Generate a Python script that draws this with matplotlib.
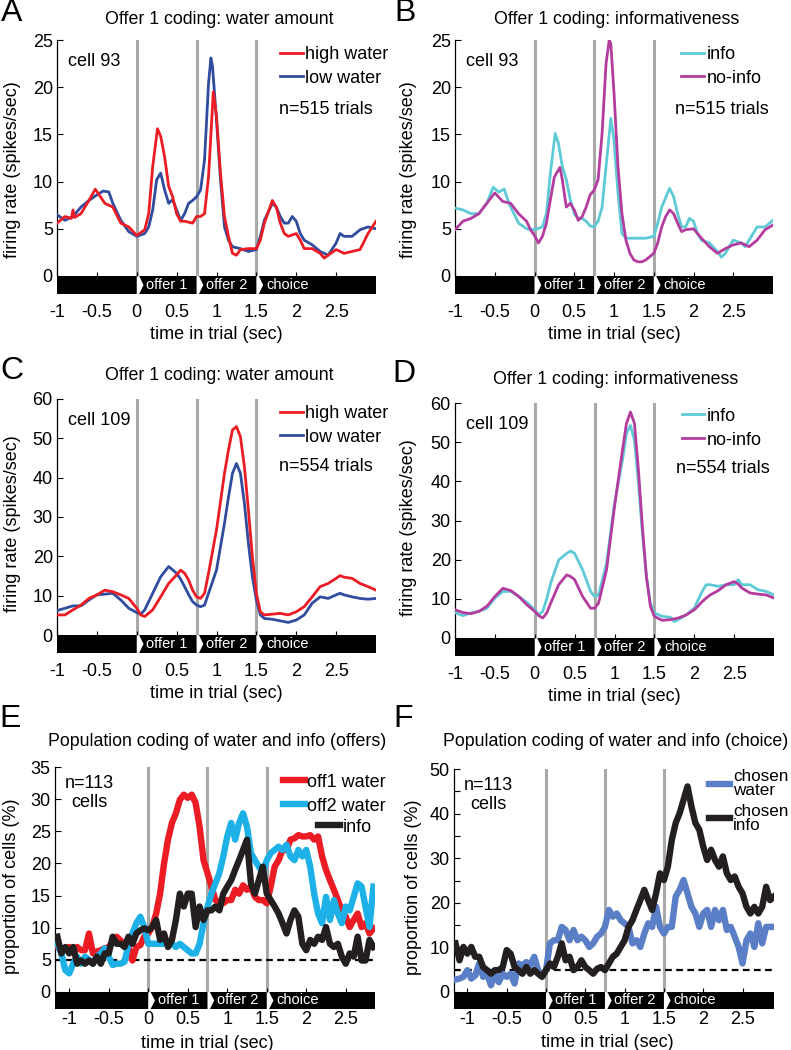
import numpy as np
import matplotlib.pyplot as plt
import matplotlib.transforms as mtransforms
from matplotlib.patches import Rectangle, Polygon

plt.rcParams['font.family'] = ['Liberation Sans', 'DejaVu Sans']

W, H = 791, 1050

# task events (sec) and the labels in the black task bar
events = [0, 0.75, 1.5]
event_labels = ['offer 1', 'offer 2', 'choice']
xticks = [-1, -0.5, 0, 0.5, 1, 1.5, 2, 2.5]
xtick_labels = ['-1', '-0.5', '0', '0.5', '1', '1.5', '2', '2.5']

# ---------------- A: cell 93, water amount
a_t_high = [-1, -0.9, -0.82, -0.8, -0.78, -0.7, -0.6, -0.52, -0.4, -0.3, -0.2, -0.1, 0, 0.1, 0.15,
            0.2, 0.26, 0.3, 0.35, 0.4, 0.45, 0.5, 0.55, 0.6, 0.7, 0.75, 0.8, 0.85, 0.9, 0.96, 1.0,
            1.05, 1.1, 1.15, 1.2, 1.25, 1.3, 1.4, 1.5, 1.55, 1.6, 1.7, 1.75, 1.8, 1.85, 1.9, 2.0,
            2.05, 2.1, 2.2, 2.3, 2.35, 2.4, 2.5, 2.6, 2.7, 2.8, 2.9, 3.0]
a_high = [5.6, 6.3, 6.1, 7.0, 6.2, 6.6, 8.0, 9.2, 7.7, 7.3, 5.6, 5.2, 4.3, 4.9, 6.6,
          11.6, 15.6, 14.8, 12.6, 9.5, 8.4, 6.6, 5.8, 5.8, 5.6, 6.3, 6.3, 6.6, 10.5, 19.5, 16.9,
          10.9, 6.3, 4.2, 2.4, 2.2, 2.8, 2.9, 2.9, 3.8, 5.6, 8.0, 7.3, 5.6, 4.5, 4.2, 4.5,
          3.8, 2.9, 2.9, 2.4, 1.9, 2.2, 2.8, 2.4, 2.6, 2.8, 4.5, 5.8]
a_t_low = [-1, -0.9, -0.8, -0.7, -0.6, -0.5, -0.42, -0.35, -0.3, -0.2, -0.1, 0, 0.1, 0.15, 0.2,
           0.25, 0.3, 0.35, 0.4, 0.45, 0.5, 0.55, 0.6, 0.65, 0.7, 0.75, 0.8, 0.85, 0.9, 0.93, 0.95,
           1.0, 1.05, 1.1, 1.15, 1.2, 1.3, 1.4, 1.5, 1.55, 1.6, 1.7, 1.75, 1.8, 1.85, 1.9, 1.95,
           2.0, 2.05, 2.1, 2.2, 2.3, 2.4, 2.5, 2.55, 2.6, 2.7, 2.8, 2.9, 3.0]
a_low = [6.5, 5.9, 6.3, 7.3, 8.0, 8.6, 9.0, 8.9, 7.7, 5.9, 4.7, 4.2, 4.5, 5.2, 7.0,
         10.2, 10.9, 9.1, 7.7, 8.1, 7.0, 5.9, 6.6, 7.7, 8.0, 8.4, 9.1, 12.3, 20.4, 23.1, 22.2,
         16.5, 10.2, 5.2, 3.8, 3.1, 2.9, 2.6, 2.8, 4.2, 5.9, 7.7, 7.3, 6.3, 5.6, 5.6, 6.3,
         5.8, 4.5, 3.8, 3.3, 2.6, 2.2, 3.5, 4.5, 4.2, 4.2, 4.9, 5.2, 5.0]

# ---------------- B: cell 93, informativeness
b_t_info = [-1, -0.9, -0.8, -0.7, -0.6, -0.52, -0.45, -0.38, -0.35, -0.3, -0.2, -0.1, 0, 0.1, 0.15,
            0.2, 0.26, 0.3, 0.35, 0.4, 0.45, 0.5, 0.55, 0.6, 0.65, 0.7, 0.75, 0.8, 0.85, 0.9, 0.96,
            1.0, 1.05, 1.1, 1.15, 1.2, 1.3, 1.4, 1.5, 1.55, 1.6, 1.7, 1.75, 1.8, 1.85, 1.9, 1.95,
            2.0, 2.05, 2.1, 2.2, 2.3, 2.35, 2.4, 2.5, 2.6, 2.65, 2.7, 2.8, 2.9, 3.0]
b_info = [7.2, 7.0, 6.6, 6.6, 7.7, 9.4, 8.9, 9.2, 8.4, 7.3, 5.6, 5.0, 4.9, 5.2, 6.6,
          10.9, 15.1, 14.1, 11.6, 10.2, 8.1, 6.6, 6.1, 6.1, 5.8, 5.3, 5.2, 5.8, 7.3, 11.6, 16.7,
          14.4, 8.8, 4.5, 4.0, 4.0, 4.0, 4.0, 4.2, 5.6, 7.3, 9.3, 8.4, 6.6, 5.2, 5.2, 6.1,
          5.8, 4.5, 3.8, 3.5, 2.6, 2.0, 2.4, 3.8, 3.5, 3.1, 3.8, 5.2, 5.2, 5.9]
b_t_noinfo = [-1, -0.9, -0.8, -0.7, -0.6, -0.5, -0.4, -0.3, -0.2, -0.1, -0.05, 0, 0.05, 0.1, 0.15,
              0.2, 0.25, 0.32, 0.35, 0.4, 0.45, 0.5, 0.55, 0.6, 0.65, 0.7, 0.75, 0.8, 0.85, 0.9,
              0.94, 0.96, 1.0, 1.05, 1.1, 1.15, 1.2, 1.25, 1.3, 1.35, 1.4, 1.5, 1.55, 1.6, 1.65,
              1.7, 1.75, 1.8, 1.85, 1.9, 2.0, 2.05, 2.1, 2.2, 2.3, 2.4, 2.5, 2.6, 2.7, 2.8, 2.9, 3.0]
b_noinfo = [4.9, 5.8, 6.1, 6.6, 7.7, 8.8, 7.9, 7.7, 6.6, 5.8, 4.9, 4.3, 3.5, 4.2, 5.6,
            8.1, 10.5, 11.5, 10.2, 7.3, 7.7, 7.0, 5.9, 6.3, 7.3, 8.6, 9.1, 10.2, 15.1, 22.5,
            25.0, 24.6, 19.4, 11.6, 6.6, 3.8, 2.4, 1.7, 1.5, 1.5, 1.7, 2.4, 3.5, 5.2, 6.3,
            7.0, 6.6, 5.6, 4.7, 4.9, 5.0, 4.5, 4.0, 3.1, 2.4, 2.9, 3.3, 3.5, 3.1, 3.8, 4.9, 5.4]

# ---------------- C: cell 109, water amount
c_t = [-1, -0.9, -0.8, -0.7, -0.6, -0.5, -0.4, -0.3, -0.2, -0.1, 0, 0.05, 0.1, 0.2, 0.3, 0.4,
       0.5, 0.55, 0.6, 0.65, 0.7, 0.75, 0.8, 0.85, 0.9, 1.0, 1.1, 1.15, 1.2, 1.25, 1.3, 1.35,
       1.4, 1.45, 1.5, 1.55, 1.6, 1.7, 1.8, 1.9, 2.0, 2.1, 2.2, 2.3, 2.4, 2.5, 2.55, 2.6, 2.7,
       2.8, 2.9, 3.0]
c_high = [5.1, 5.1, 6.4, 7.6, 9.3, 10.2, 11.4, 11.0, 10.2, 9.3, 6.8, 5.1, 4.7, 6.4, 9.7, 13.1,
          15.3, 16.5, 15.7, 14.0, 11.4, 9.7, 9.3, 10.6, 15.7, 26.7, 41.1, 47.0, 52.1, 53.0, 50.4, 42.8,
          31.8, 19.9, 10.6, 5.9, 5.1, 5.3, 5.5, 5.1, 5.9, 7.2, 9.7, 12.3, 13.1, 14.4, 15.1, 14.7, 14.4,
          13.1, 12.3, 11.4]
c_low = [6.2, 6.8, 7.4, 7.4, 8.9, 10.2, 10.4, 10.6, 8.9, 6.8, 5.7, 5.3, 6.4, 10.6, 14.8, 17.4,
         15.7, 14.2, 12.3, 10.3, 8.5, 7.6, 7.2, 7.6, 10.6, 16.5, 28.4, 35.0, 41.1, 43.6, 41.1, 33.5,
         23.3, 14.8, 8.9, 5.1, 4.2, 4.0, 3.6, 3.2, 3.8, 5.1, 8.1, 9.7, 9.3, 10.2, 10.6, 10.2, 9.7,
         9.3, 9.1, 9.3]

# ---------------- D: cell 109, informativeness
d_t = [-1, -0.9, -0.8, -0.7, -0.6, -0.5, -0.4, -0.3, -0.2, -0.1, 0, 0.05, 0.1, 0.15, 0.2, 0.3,
       0.4, 0.45, 0.5, 0.6, 0.7, 0.75, 0.8, 0.9, 1.0, 1.1, 1.15, 1.2, 1.25, 1.3, 1.35, 1.4, 1.45,
       1.5, 1.6, 1.7, 1.75, 1.8, 1.9, 2.0, 2.05, 2.1, 2.15, 2.2, 2.3, 2.4, 2.5, 2.55, 2.6, 2.7,
       2.8, 2.9, 3.0]
d_info = [6.5, 5.7, 6.4, 6.8, 7.6, 10.2, 11.9, 11.9, 10.6, 9.1, 7.2, 5.9, 6.8, 10.0, 14.0, 19.9,
          21.6, 22.2, 21.6, 17.4, 11.9, 10.6, 11.0, 19.1, 34.4, 45.4, 52.2, 54.3, 50.5, 39.5, 26.7,
          15.7, 8.9, 6.4, 5.5, 5.3, 4.2, 4.7, 5.9, 7.6, 9.8, 11.9, 13.6, 13.6, 13.2, 13.6, 13.6,
          14.9, 13.6, 13.6, 12.3, 11.9, 11.0]
d_noinfo = [7.2, 6.5, 6.2, 6.8, 8.1, 10.6, 12.7, 12.1, 10.6, 8.5, 6.8, 5.7, 5.1, 6.4, 8.9, 13.6,
            16.1, 15.7, 14.9, 10.6, 7.6, 7.6, 8.9, 17.4, 33.5, 48.0, 54.8, 57.7, 54.8, 42.9, 28.4,
            15.7, 8.1, 5.5, 4.5, 4.7, 4.9, 5.1, 5.9, 7.2, 8.2, 9.3, 10.2, 11.0, 12.1, 13.6, 14.4,
            13.8, 12.7, 11.5, 11.2, 11.0, 10.2]

# ---------------- E: population, offers (% of 113 cells), 50 ms steps from -1.15 s
e_t = np.round(np.arange(-1.15, 2.851, 0.05), 2)
e_off1 = [7.0, 6.5, 6.8, 7.0, 6.2, 7.0, 6.5, 6.5, 9.1, 6.0, 6.3, 6.5, 6.8, 7.0, 7.8, 8.6,
          8.0, 7.5, 7.0, 4.9, 7.0, 7.3, 8.6, 9.1, 10.1, 12.2, 15.3, 20.0, 23.7, 26.3, 27.8, 29.9,
          30.7, 30.2, 30.7, 29.4, 25.7, 20.5, 18.5, 16.4, 14.3, 14.0, 13.8, 14.3, 14.3, 15.9, 15.3,
          16.6, 15.9, 16.4, 14.8, 14.3, 14.3, 13.8, 16.4, 19.5, 20.5, 22.1, 22.1, 23.7, 23.9, 24.4,
          24.2, 24.2, 24.4, 23.7, 24.2, 21.1, 19.0, 17.4, 15.9, 14.3, 12.7, 11.7, 10.1, 11.2, 12.2,
          10.1, 10.7, 9.1, 9.9]
e_off2 = [7.5, 6.0, 3.4, 2.9, 4.4, 5.5, 4.4, 5.5, 5.0, 4.4, 5.5, 6.0, 6.8, 5.5, 4.2, 4.4,
          4.4, 4.7, 7.5, 9.1, 10.7, 11.7, 10.1, 7.5, 7.5, 7.5, 7.5, 7.5, 7.5, 7.5, 7.0, 7.5,
          7.0, 6.5, 6.0, 6.0, 7.5, 10.7, 13.3, 15.3, 16.9, 18.5, 21.1, 24.2, 26.3, 23.7, 26.3,
          27.8, 25.7, 21.6, 20.5, 19.5, 18.5, 20.5, 21.6, 22.1, 22.6, 22.1, 22.9, 21.1, 20.5, 22.1,
          21.1, 22.1, 19.5, 15.3, 12.2, 10.7, 14.8, 11.2, 14.3, 12.2, 10.7, 13.3, 12.7, 14.8, 16.9,
          16.4, 13.3, 10.1, 16.4]
e_info = [8.6, 6.0, 7.0, 6.0, 7.0, 4.4, 4.9, 4.4, 4.9, 4.4, 5.5, 4.4, 6.0, 6.0, 8.6, 7.5,
          7.5, 7.0, 8.6, 7.5, 9.1, 9.6, 9.9, 9.6, 10.1, 11.2, 8.1, 9.1, 7.0, 8.1, 11.2, 15.3,
          13.3, 15.3, 15.3, 10.1, 13.3, 11.2, 12.7, 12.7, 13.3, 12.7, 15.3, 16.4, 17.4, 19.0, 20.5,
          22.1, 23.7, 16.9, 15.3, 17.4, 19.5, 15.3, 14.3, 13.3, 12.2, 10.7, 9.1, 11.2, 12.7, 11.7,
          7.5, 6.5, 8.1, 7.5, 8.6, 8.1, 10.1, 7.5, 7.0, 7.5, 5.5, 4.4, 6.0, 5.5, 8.6, 4.9, 4.9,
          8.1, 7.0]

# ---------------- F: population, choice (% of 113 cells), 50 ms steps from -1.15 s
f_t = np.round(np.arange(-1.15, 2.901, 0.05), 2)
f_water = [2.8, 3.0, 3.4, 4.9, 3.0, 3.7, 6.4, 3.4, 4.1, 1.5, 4.1, 2.2, 4.1, 3.4, 4.1, 1.9,
           6.4, 6.0, 6.7, 6.0, 7.9, 4.9, 3.7, 4.9, 10.9, 11.6, 11.6, 14.6, 13.9, 11.6, 13.9, 11.6,
           12.4, 11.6, 10.1, 10.9, 12.4, 13.1, 14.6, 18.4, 16.9, 17.6, 16.1, 15.4, 14.6, 10.9, 11.6,
           10.1, 13.1, 15.4, 14.6, 19.1, 14.6, 13.1, 14.6, 14.6, 21.4, 22.9, 25.1, 22.1, 19.1, 17.6,
           14.6, 17.6, 18.4, 14.6, 18.4, 16.1, 18.4, 13.9, 14.6, 12.4, 10.1, 6.4, 11.6, 13.1, 10.1,
           15.4, 10.9, 14.6, 14.6, 14.6]
f_info = [10.9, 7.1, 10.1, 8.6, 10.1, 7.9, 7.9, 5.6, 4.9, 4.1, 4.9, 4.9, 5.6, 9.4, 8.6, 5.6,
          4.9, 4.1, 5.6, 4.1, 4.9, 4.1, 3.4, 4.9, 6.4, 5.6, 7.9, 10.9, 7.1, 7.9, 4.9, 5.6,
          7.1, 5.6, 4.9, 4.1, 5.2, 5.6, 4.9, 6.4, 7.9, 8.6, 10.1, 11.6, 14.6, 16.1, 18.4,
          20.6, 22.9, 20.6, 18.4, 22.1, 26.6, 25.1, 28.1, 34.1, 37.9, 40.1, 43.1, 46.1, 41.6, 37.9,
          36.4, 32.6, 29.6, 31.9, 29.6, 28.1, 30.4, 26.6, 25.1, 25.9, 23.6, 22.1, 19.1, 17.6, 19.1,
          17.6, 19.1, 23.6, 20.6, 21.4]
chance_level = 5

RED = '#ec1c24'
BLUE = '#2f4c9e'
CYAN = '#5ecad6'
MAGENTA = '#b43c9e'
SKY = '#1db1e8'
BLACK = '#231f20'
CORN = '#5b7fc6'
GRAY = '#a9a9a9'

fig = plt.figure(figsize=(W / 100, H / 100), dpi=100)


def panel(rect, xlim, ytop, yticks, bar_px=18, xpad=20):
    x0, y0, x1, y1 = rect
    ax = fig.add_axes([x0 / W, 1 - y1 / H, (x1 - x0) / W, (y1 - y0) / H])
    ax.set_xlim(xlim)
    ax.set_ylim(0, ytop)
    for s in ['top', 'right', 'bottom']:
        ax.spines[s].set_visible(False)
    ax.spines['left'].set_linewidth(0.9)
    ax.set_xticks(xticks)
    ax.set_xticklabels(xtick_labels)
    ax.set_yticks(yticks)
    ax.set_yticklabels([str(v) for v in yticks])
    ax.tick_params(axis='x', direction='in', length=3, width=0.8, pad=xpad, labelsize=13)
    ax.tick_params(axis='y', direction='in', length=4, width=0.8, pad=3, labelsize=13)
    for ev in events:
        ax.axvline(ev, color=GRAY, lw=2.2, zorder=1)
    # black task bar under the axes
    h = bar_px / (y1 - y0)
    tr = mtransforms.blended_transform_factory(ax.transData, ax.transAxes)
    ax.add_patch(Rectangle((xlim[0], -h), xlim[1] - xlim[0], h, transform=tr,
                           facecolor='black', lw=0, clip_on=False))
    for ev, lab in zip(events, event_labels):
        ax.add_patch(Polygon([(ev, 0), (ev + 0.03, 0), (ev + 0.085, -h / 2), (ev + 0.03, -h), (ev, -h)],
                             closed=True, transform=tr, facecolor='white', lw=0, clip_on=False))
        ax.text(ev + 0.12, -h / 2, lab, transform=tr, color='white', fontsize=10.5,
                ha='left', va='center')
    return ax


def labels(ax, letter, lpos, title, tpos, ylabel, ylab_xy, xlab_x=0.5, xlab_y=-0.213):
    fig.text(lpos[0] / W, 1 - lpos[1] / H, letter, fontsize=23, ha='center', va='center')
    fig.text(tpos[0] / W, 1 - tpos[1] / H, title, fontsize=12.8, ha='center', va='center')
    ax.set_ylabel(ylabel, fontsize=13)
    ax.yaxis.set_label_coords(*ylab_xy)
    ax.set_xlabel('time in trial (sec)', fontsize=13)
    ax.xaxis.set_label_coords(xlab_x, xlab_y)


def cell_legend(ax, handles, names, anchor, ntext, ntext_xy, cell):
    ax.legend(handles, names, loc='upper left', bbox_to_anchor=anchor, frameon=False,
              fontsize=13, handlelength=1.25, handletextpad=0.15, borderpad=0,
              borderaxespad=0, labelspacing=0.38)
    ax.text(ntext_xy[0], ntext_xy[1], ntext, transform=ax.transAxes, fontsize=13,
            ha='left', va='center')
    ax.text(0.034, 0.909, cell, transform=ax.transAxes, fontsize=13, ha='left', va='center')


# ---- A
axA = panel((57, 40, 376, 276), (-1, 3), 25, [0, 5, 10, 15, 20, 25])
lA2, = axA.plot(a_t_low, a_low, color=BLUE, lw=2.0, zorder=3)
lA1, = axA.plot(a_t_high, a_high, color=RED, lw=2.0, zorder=3)
labels(axA, 'A', (12, 13), 'Offer 1 coding: water amount', (219, 19),
       'firing rate (spikes/sec)', (-0.113, 0.45))
cell_legend(axA, [lA1, lA2], ['high water', 'low water'], (0.699, 0.975),
            'n=515 trials', (0.696, 0.705), 'cell 93')

# ---- B
axB = panel((455, 40, 773, 276), (-1, 3), 25, [0, 5, 10, 15, 20, 25])
lB1, = axB.plot(b_t_info, b_info, color=CYAN, lw=2.0, zorder=3)
lB2, = axB.plot(b_t_noinfo, b_noinfo, color=MAGENTA, lw=2.0, zorder=3)
labels(axB, 'B', (405, 13), 'Offer 1 coding: informativeness', (617, 19),
       'firing rate (spikes/sec)', (-0.119, 0.45))
cell_legend(axB, [lB1, lB2], ['info', 'no-info'], (0.711, 0.975),
            'n=515 trials', (0.692, 0.705), 'cell 93')

# ---- C
axC = panel((57, 399, 376, 635), (-1, 3), 60, [0, 10, 20, 30, 40, 50, 60])
lC2, = axC.plot(c_t, c_low, color=BLUE, lw=2.0, zorder=3)
lC1, = axC.plot(c_t, c_high, color=RED, lw=2.0, zorder=3)
labels(axC, 'C', (12, 371), 'Offer 1 coding: water amount', (219, 375),
       'firing rate (spikes/sec)', (-0.113, 0.47))
cell_legend(axC, [lC1, lC2], ['high water', 'low water'], (0.699, 0.975),
            'n=554 trials', (0.696, 0.712), 'cell 109')

# ---- D
axD = panel((455, 403, 774, 638), (-1, 3), 60, [0, 10, 20, 30, 40, 50, 60])
lD1, = axD.plot(d_t, d_info, color=CYAN, lw=2.0, zorder=3)
lD2, = axD.plot(d_t, d_noinfo, color=MAGENTA, lw=2.0, zorder=3)
labels(axD, 'D', (404, 374), 'Offer 1 coding: informativeness', (616, 379),
       'firing rate (spikes/sec)', (-0.119, 0.47))
cell_legend(axD, [lD1, lD2], ['info', 'no-info'], (0.711, 0.98),
            'n=554 trials', (0.692, 0.72), 'cell 109')

# ---- E
axE = panel((55, 767, 375, 992), (-1.18, 2.87), 35, [0, 5, 10, 15, 20, 25, 30, 35],
            bar_px=17, xpad=13.5)
axE.axhline(chance_level, color='black', lw=1.6, ls=(0, (3, 2)), zorder=2)
lE1, = axE.plot(e_t, e_off1, color=RED, lw=4.6, zorder=3)
lE2, = axE.plot(e_t, e_off2, color=SKY, lw=4.6, zorder=3)
lE3, = axE.plot(e_t, e_info, color=BLACK, lw=4.6, zorder=3)
labels(axE, 'E', (10, 719), 'Population coding of water and info (offers)', (217, 742),
       'proportion of cells (%)', (-0.109, 0.47), xlab_x=0.477, xlab_y=-0.19)
legE = axE.legend([lE1, lE2], ['off1 water', 'off2 water'], loc='upper left',
                  bbox_to_anchor=(0.712, 0.97), frameon=False, fontsize=13, handlelength=1.2,
                  handletextpad=0.15, borderpad=0, borderaxespad=0, labelspacing=0.38)
axE.add_artist(legE)
axE.legend([lE3], ['info'], loc='upper right', bbox_to_anchor=(0.99, 0.97 - 0.2),
           frameon=False, fontsize=13, handlelength=1.2, handletextpad=0.15, borderpad=0,
           borderaxespad=0)
axE.text(0.107, 0.884, 'n=113\ncells', transform=axE.transAxes, fontsize=13,
         ha='center', va='center', linespacing=1.1)

# ---- F
axF = panel((454, 769, 774, 992), (-1.17, 2.9), 50, [0, 10, 20, 30, 40, 50],
            bar_px=17, xpad=13.5)
axF.set_yticks([5, 15, 25, 35, 45], minor=True)
axF.tick_params(axis='y', which='minor', direction='in', length=4, width=0.8)
axF.axhline(chance_level, color='black', lw=1.6, ls=(0, (3, 2)), zorder=2)
lF1, = axF.plot(f_t, f_water, color=CORN, lw=4.6, zorder=3)
lF2, = axF.plot(f_t, f_info, color=BLACK, lw=4.6, zorder=3)
labels(axF, 'F', (403, 719), 'Population coding of water and info (choice)', (616, 742),
       'proportion of cells (%)', (-0.1, 0.47), xlab_x=0.478, xlab_y=-0.19)
legF = axF.legend([lF1, lF2], ['chosen\nwater', 'chosen\ninfo'], loc='upper left',
                  bbox_to_anchor=(0.797, 1.0), frameon=False, fontsize=12.3, handlelength=1.25,
                  handletextpad=0.15, borderpad=0, borderaxespad=0, labelspacing=0.3)
for t in legF.get_texts():
    t.set_linespacing(0.95)
axF.text(0.106, 0.883, 'n=113\ncells', transform=axF.transAxes, fontsize=13,
         ha='center', va='center', linespacing=1.1)

fig.savefig('out.png', dpi=100)
